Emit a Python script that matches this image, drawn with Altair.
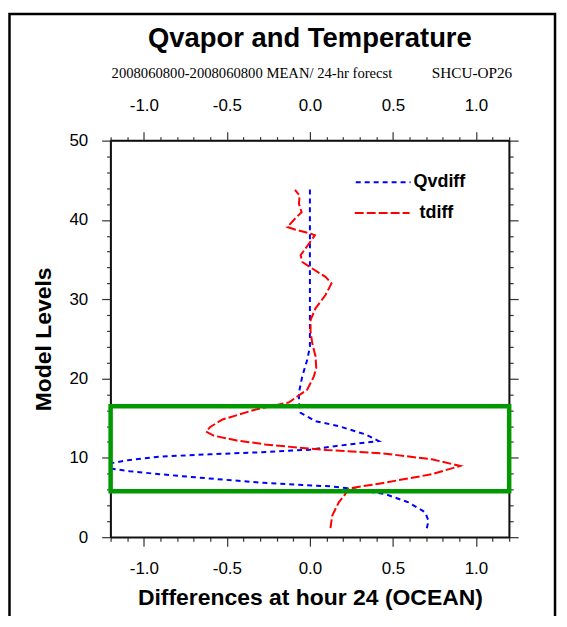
import altair as alt
import pandas as pd

# ---- data ----
qv_level = [1.13, 2.08, 3.14, 4.39, 5.43, 6.15, 6.4, 6.56, 6.9, 7.4, 7.94, 8.32, 8.66,
            9.32, 9.74, 10.16, 10.45, 10.7, 11.03, 11.5, 11.92, 12.12, 12.96, 14.0,
            14.63, 15.68, 16.94, 18.19, 20.28, 22.37, 24.0, 44.2]
qv_value = [0.704, 0.714, 0.694, 0.594, 0.454, 0.234, 0.134, -0.03, -0.306, -0.606, -0.906,
            -1.086, -1.2, -1.2, -1.086, -0.906, -0.606, -0.306, 0.0, 0.16, 0.334, 0.414,
            0.334, 0.174, 0.034, -0.056, -0.066, -0.066, -0.046, -0.016, 0.0, 0.0]

t_level = [1.13, 2.71, 4.39, 5.2, 6.15, 6.81, 7.94, 8.98, 9.82, 10.58, 10.99, 11.29, 11.7,
           12.2, 12.8, 13.3, 13.9, 14.84, 16.1, 17.0, 18.6, 20.28, 21.33, 22.79, 24.47,
           25.92, 27.39, 28.86, 30.53, 32.0, 32.82, 33.88, 34.7, 35.55, 37.0, 38.06,
           38.27, 38.77, 39.1, 40.15, 40.98, 42.03, 43.07, 43.8]
t_value = [0.124, 0.134, 0.174, 0.205, 0.234, 0.434, 0.734, 0.904, 0.734, 0.434, 0.10,
           -0.07, -0.27, -0.44, -0.58, -0.625, -0.60, -0.526, -0.326, -0.126, -0.016,
           0.024, 0.038, 0.034, 0.014, 0.004, 0.004, 0.034, 0.094, 0.13, 0.094, 0.014,
           -0.046, -0.056, -0.006, 0.03, 0.004, -0.086, -0.136, -0.09, -0.05, -0.066,
           -0.062, -0.09]

series_names = ["Qvdiff", "tdiff"]
series_colors = ["#0000ff", "#ff0000"]
series_dash = [[5, 4], [9, 3]]

box_x = [-1.2, 1.2]
box_y = [5.8, 16.5]

x_ticks = [-1.2, -1.1, -1.0, -0.9, -0.8, -0.7, -0.6, -0.5, -0.4, -0.3, -0.2, -0.1, 0.0,
           0.1, 0.2, 0.3, 0.4, 0.5, 0.6, 0.7, 0.8, 0.9, 1.0, 1.1, 1.2]
y_ticks = [0, 2, 4, 6, 8, 10, 12, 14, 16, 18, 20, 22, 24, 26, 28, 30, 32, 34, 36, 38, 40,
           42, 44, 46, 48, 50]

title_text = "Qvapor and Temperature"
subtitle_left = "2008060800-2008060800 MEAN/ 24-hr forecst"
subtitle_right = "SHCU-OP26"
x_title = "Differences at hour 24 (OCEAN)"
y_title = "Model Levels"

# ---- tables ----
df = pd.DataFrame({
    "level": qv_level + t_level,
    "value": qv_value + t_value,
    "series": [series_names[0]] * len(qv_level) + [series_names[1]] * len(t_level),
})
box_df = pd.DataFrame({"x0": [box_x[0]], "x1": [box_x[1]], "y0": [box_y[0]], "y1": [box_y[1]]})
one = pd.DataFrame({"a": [0]})

SANS = "Liberation Sans"
SERIF = "Liberation Serif"

x_major = "abs(round(datum.value*10)) % 5 == 0"
x_label = "abs(round(datum.value*10)) % 5 == 0 ? (datum.value < 0 ? '-' : '') + format(abs(datum.value), '.1f') : ''"
y_major = "datum.value % 10 == 0"
y_label = "datum.value % 10 == 0 ? '' + datum.value : ''"

common_axis = dict(
    domainColor="#111111", domainWidth=1.5, tickColor="#333333", tickWidth=1.2,
    labelFont=SANS, labelFontSize=17, labelColor="black", labelOverlap=False,
    labelFlush=False, grid=False, titleFont=SANS, titleFontSize=23,
    titleFontWeight="bold", titleColor="black",
)

xscale = alt.Scale(domain=[-1.2, 1.2], nice=False, zero=False)
yscale = alt.Scale(domain=[0, 50], nice=False, zero=False)

bottom_axis = alt.Axis(orient="bottom", values=x_ticks, labelExpr=x_label,
                       tickSize={"condition": {"test": x_major, "value": 9}, "value": 4},
                       labelPadding=14, title=x_title, titlePadding=11, **common_axis)
left_axis = alt.Axis(orient="left", values=y_ticks, labelExpr=y_label,
                     tickSize={"condition": {"test": y_major, "value": 9}, "value": 4},
                     labelPadding=14, title=y_title, titlePadding=13, **common_axis)
top_axis = alt.Axis(orient="top", values=x_ticks, labelExpr=x_label,
                    tickSize={"condition": {"test": x_major, "value": 9}, "value": 4},
                    labelPadding=17, title=None, **common_axis)
right_axis = alt.Axis(orient="right", values=y_ticks, labels=False,
                      tickSize={"condition": {"test": y_major, "value": 9}, "value": 4},
                      title=None, **common_axis)

lines = alt.Chart(df).mark_line(strokeWidth=2, clip=True).encode(
    x=alt.X("value:Q", scale=xscale, axis=bottom_axis),
    y=alt.Y("level:Q", scale=yscale, axis=left_axis),
    color=alt.Color("series:N", scale=alt.Scale(domain=series_names, range=series_colors), legend=None),
    strokeDash=alt.StrokeDash("series:N", scale=alt.Scale(domain=series_names, range=series_dash), legend=None),
    order=alt.Order("level:Q"),
)

box = alt.Chart(box_df).mark_rect(fill=None, filled=False, stroke="#009900", strokeWidth=4.5).encode(
    x=alt.X("x0:Q", scale=xscale, axis=top_axis),
    x2="x1:Q",
    y=alt.Y("y0:Q", scale=yscale, axis=right_axis),
    y2="y1:Q",
)

# legend drawn inside the plot
leg_lines = []
leg_texts = []
leg_pos = [(246, 301, 41.7, 304), (245, 300, 72.7, 310)]
for name, col, dash, (xa, xb, yy, xt) in zip(series_names, series_colors, series_dash, leg_pos):
    leg_lines.append(alt.Chart(one).mark_rule(color=col, strokeWidth=2, strokeDash=dash).encode(
        x=alt.value(xa), x2=alt.value(xb), y=alt.value(yy)))
    leg_texts.append(alt.Chart(one).mark_text(font=SANS, fontSize=18, fontWeight="bold",
                                              align="left", baseline="middle", color="black").encode(
        x=alt.value(xt), y=alt.value(yy), text=alt.value(name)))

title = alt.Chart(one).mark_text(font=SANS, fontSize=27.5, fontWeight="bold", align="center",
                                 baseline="alphabetic", color="black").encode(
    x=alt.value(200), y=alt.value(-94), text=alt.value(title_text))
sub_l = alt.Chart(one).mark_text(font=SERIF, fontSize=14.7, align="left",
                                 baseline="alphabetic", color="black").encode(
    x=alt.value(1), y=alt.value(-63), text=alt.value(subtitle_left))
sub_r = alt.Chart(one).mark_text(font=SERIF, fontSize=15.3, align="right",
                                 baseline="alphabetic", color="black").encode(
    x=alt.value(403), y=alt.value(-63), text=alt.value(subtitle_right))

outer = alt.Chart(one).mark_rect(fill=None, filled=False, stroke="black", strokeWidth=2.5).encode(
    x=alt.value(-101.5), x2=alt.value(446), y=alt.value(-127), y2=alt.value(520))

chart = alt.layer(
    lines, box, *leg_lines, *leg_texts, title, sub_l, sub_r, outer
).resolve_axis(x="independent", y="independent").properties(
    width=400, height=398,
    autosize="none",
    padding={"left": 103, "top": 132, "right": 50, "bottom": 78},
).configure_view(stroke="#111111", strokeWidth=1.5)

chart.save("out.html", embed_options={"renderer": "svg", "actions": False})
